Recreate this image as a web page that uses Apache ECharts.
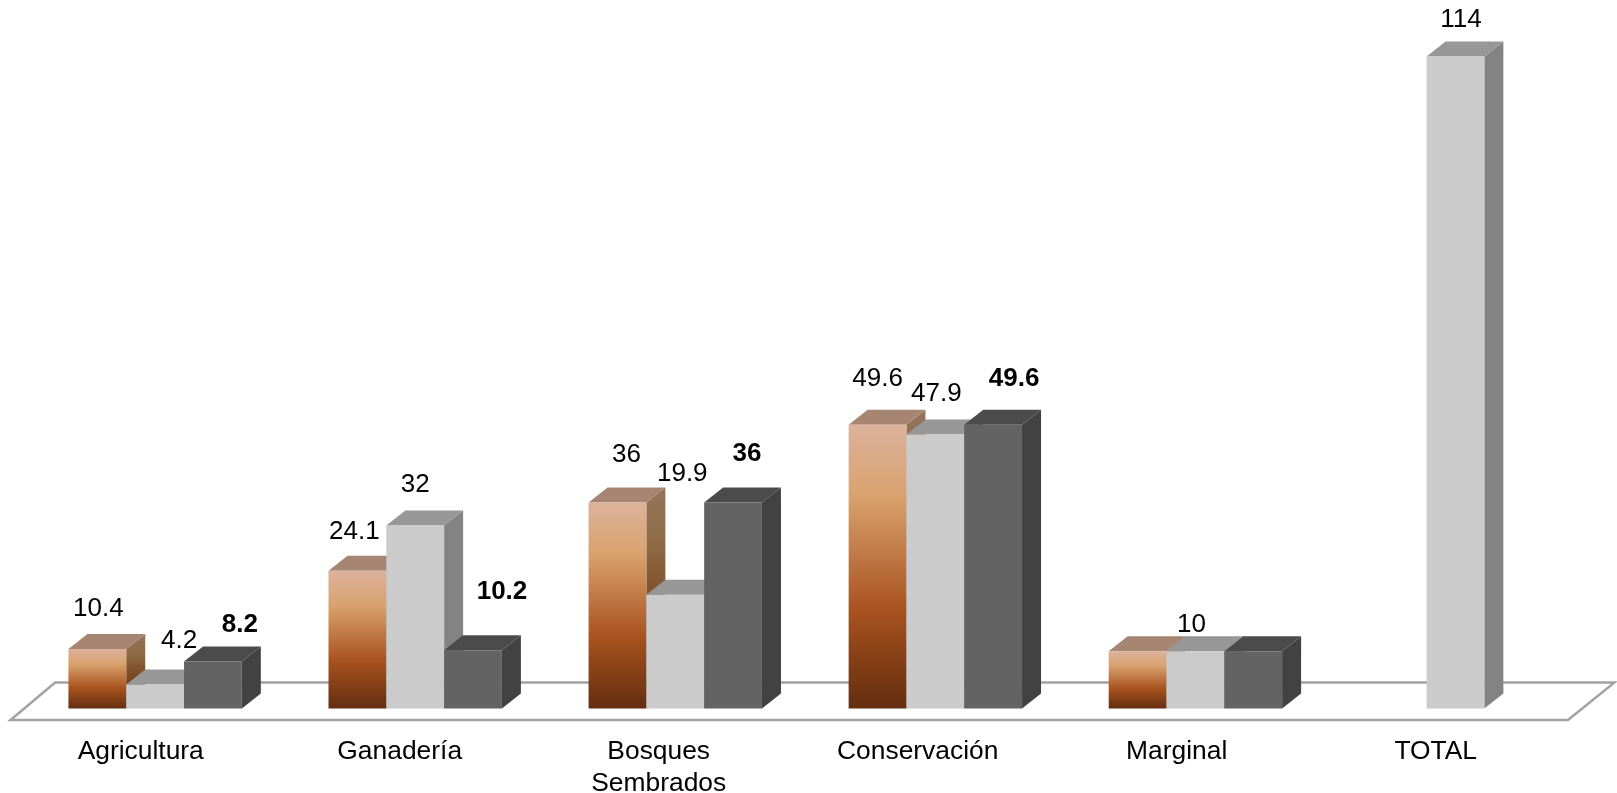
<!DOCTYPE html>
<html>
<head>
<meta charset="utf-8">
<style>html,body{margin:0;padding:0;background:#fff}#chart{width:1617px;height:793px}</style>
<script src="https://cdn.jsdelivr.net/npm/echarts@6/dist/echarts.min.js"></script>
</head>
<body>
<div id="chart"></div>
<script>
// Land use figures by category
const categories = ['Agricultura', 'Ganadería', 'Bosques\nSembrados', 'Conservación', 'Marginal', 'TOTAL'];
const brownValues = [10.4, 24.1, 36, 49.6, 10, null];
const greyValues = [4.2, 32, 19.9, 47.9, 10, 114];
const darkValues = [8.2, 10.2, 36, 49.6, 10, null];

// Hand-placed value labels: shift from the top centre of each bar's front face; null means unlabelled
const brownLabelShift = [[1, -40], [-3, -39], [9, -48], [0, -46], null, null];
const greyLabelShift = [[24, -44], [0, -41], [7, -121], [1, -41], [-4, -26], [5.5, -37]];
const darkLabelShift = [[27, -37], [29, -58], [14, -49], [21, -46], null, null];

const FONT = '"Liberation Sans", Arial, sans-serif';
const FONT_SIZE = 26;
const AXIS_FONT_SIZE = 26.4;
const BAR_W = 57.8;
const DEPTH_X = 19;
const DEPTH_Y = 15;

const vGrad = (stops) => new echarts.graphic.LinearGradient(0, 0, 0, 1, stops);

const brownStyle = {
  front: () => vGrad([
    { offset: 0, color: '#dcb29c' }, { offset: 0.25, color: '#d9a26e' },
    { offset: 0.65, color: '#a9531f' }, { offset: 1, color: '#642e0f' }
  ]),
  top: () => '#a68672',
  side: () => vGrad([
    { offset: 0, color: '#94745a' }, { offset: 0.25, color: '#8f6b45' },
    { offset: 0.65, color: '#77401a' }, { offset: 1, color: '#4a230b' }
  ])
};
const greyStyle = { front: () => '#cbcbcb', top: () => '#979797', side: () => '#838383' };
const darkStyle = { front: () => '#636363', top: () => '#4b4b4b', side: () => '#424242' };

// Extruded bar: front, top and side faces plus its optional value label
function boxRenderer(slot, look, shifts, bold) {
  return function (params, api) {
    const idx = api.value(0);
    const val = api.value(1);
    const top = api.coord([idx, val]);
    const base = api.coord([idx, 0]);
    const cx = top[0] + slot * BAR_W;
    const x0 = cx - BAR_W / 2;
    const x1 = cx + BAR_W / 2;
    const y0 = top[1];
    const y1 = base[1];
    const kids = [
      { type: 'polygon', shape: { points: [[x1, y0], [x1 + DEPTH_X, y0 - DEPTH_Y], [x1 + DEPTH_X, y1 - DEPTH_Y], [x1, y1]] }, style: { fill: look.side() } },
      { type: 'polygon', shape: { points: [[x0, y0], [x0 + DEPTH_X, y0 - DEPTH_Y], [x1 + DEPTH_X, y0 - DEPTH_Y], [x1, y0]] }, style: { fill: look.top() } },
      { type: 'rect', shape: { x: x0, y: y0, width: BAR_W, height: y1 - y0 }, style: { fill: look.front() } }
    ];
    const shift = shifts[idx];
    if (shift) {
      kids.push({
        type: 'text',
        x: cx + shift[0],
        y: y0 + shift[1],
        z2: 50,
        style: {
          text: String(val), fill: '#000', align: 'center', verticalAlign: 'middle',
          font: (bold ? 'bold ' : '') + FONT_SIZE + 'px ' + FONT
        }
      });
    }
    return { type: 'group', children: kids };
  };
}

const pairs = (arr) => arr.map((v, i) => [i, v]).filter((p) => p[1] !== null);

function barSeries(name, values, slot, look, shifts, bold, z) {
  return {
    name, type: 'custom', coordinateSystem: 'cartesian2d', xAxisIndex: 0, yAxisIndex: 0,
    data: pairs(values), encode: { x: 0, y: 1 }, clip: false, z,
    renderItem: boxRenderer(slot, look, shifts, bold)
  };
}

// Slanted floor the bars stand on, outlined in grey
const floorSeries = {
  type: 'custom', coordinateSystem: 'cartesian2d', xAxisIndex: 0, yAxisIndex: 0,
  data: [[0, 0]], encode: { x: 0, y: 1 }, clip: false, z: 1, silent: true,
  renderItem(params, api) {
    const cs = params.coordSys;
    const yb = cs.y + cs.height;
    return {
      type: 'polygon',
      shape: { points: [[cs.x - 14.5, yb + 11.5], [cs.x + 30, yb - 26], [cs.x + cs.width + 29, yb - 26], [cs.x + cs.width - 17.5, yb + 11.5]] },
      style: { fill: '#fff', stroke: '#a3a3a3', lineWidth: 2.5 }
    };
  }
};

const chart = echarts.init(document.getElementById('chart'), null, { renderer: 'canvas' });
chart.setOption({
  animation: false,
  backgroundColor: '#fff',
  grid: [
    { left: 25.1, width: 1560.4, top: 22.1, height: 686.4, outerBoundsMode: 'none' },
    { left: 11.2, width: 1554, top: 22.1, height: 686.4, outerBoundsMode: 'none' }
  ],
  xAxis: [
    { type: 'category', gridIndex: 0, data: categories, axisLine: { show: false }, axisTick: { show: false }, axisLabel: { show: false }, splitLine: { show: false } },
    {
      type: 'category', gridIndex: 1, data: categories,
      axisLine: { show: false }, axisTick: { show: false }, splitLine: { show: false },
      axisLabel: { show: true, interval: 0, margin: 27.5, color: '#000', fontFamily: FONT, fontSize: AXIS_FONT_SIZE, lineHeight: 32, verticalAlign: 'top', hideOverlap: false }
    }
  ],
  yAxis: [
    { type: 'value', gridIndex: 0, min: 0, max: 120, show: false },
    { type: 'value', gridIndex: 1, min: 0, max: 120, show: false }
  ],
  series: [
    floorSeries,
    barSeries('Serie 1', brownValues, -1, brownStyle, brownLabelShift, false, 2),
    barSeries('Serie 2', greyValues, 0, greyStyle, greyLabelShift, false, 3),
    barSeries('Serie 3', darkValues, 1, darkStyle, darkLabelShift, true, 4)
  ]
});
</script>
</body>
</html>
